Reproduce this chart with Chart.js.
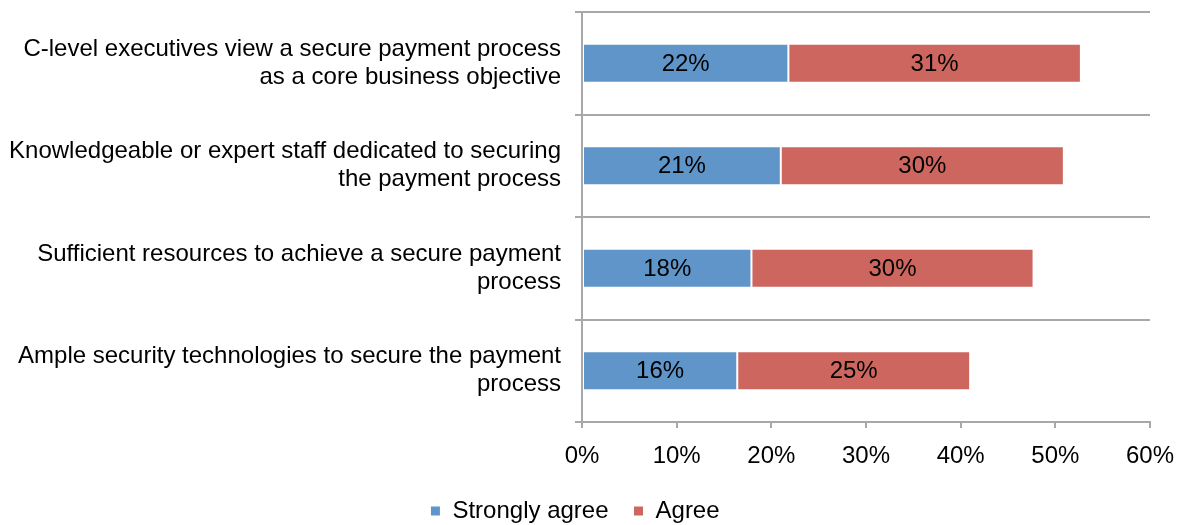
<!DOCTYPE html>
<html>
<head>
<meta charset="utf-8">
<title>Secure payment process</title>
<script src="https://cdn.jsdelivr.net/npm/chart.js@4/dist/chart.umd.min.js"></script>
<style>
  html, body { margin: 0; padding: 0; background: #fff; }
  #wrap { width: 1181px; height: 525px; position: relative; }
</style>
</head>
<body>
<div id="wrap"><canvas id="surveyChart"></canvas></div>
<script>
const categories = [
    ["C-level executives view a secure payment process", "as a core business objective"],
    ["Knowledgeable or expert staff dedicated to securing", "the payment process"],
    ["Sufficient resources to achieve a secure payment", "process"],
    ["Ample security technologies to secure the payment", "process"]
];
const stronglyAgree = [21.8, 21.0, 17.9, 16.4];
const agree = [30.9, 29.9, 29.8, 24.6];
const xTicks = [0, 10, 20, 30, 40, 50, 60];

const FONT = "'Liberation Sans', Arial, sans-serif";
const GRID = '#a8a8a8';

// write the rounded value in the middle of each bar segment
const segmentLabels = {
    id: 'segmentLabels',
    afterDatasetsDraw(chart) {
        const ctx = chart.ctx;
        ctx.save();
        ctx.font = '24px ' + FONT;
        ctx.fillStyle = '#000';
        ctx.textAlign = 'center';
        ctx.textBaseline = 'middle';
        chart.data.datasets.forEach((ds, i) => {
            chart.getDatasetMeta(i).data.forEach((bar, j) => {
                const cx = (bar.x + bar.base) / 2;
                ctx.fillText(Math.round(ds.data[j]) + '%', cx, bar.y + 1);
            });
        });
        ctx.restore();
    }
};

const ctx = document.getElementById('surveyChart').getContext('2d');
new Chart(ctx, {
    type: 'bar',
    data: {
        labels: categories,
        datasets: [{
            label: 'Strongly agree',
            data: stronglyAgree,
            backgroundColor: '#5f95c9',
            borderColor: '#ffffff',
            borderWidth: 1,
            borderSkipped: false,
            barPercentage: 0.38,
            categoryPercentage: 1
        }, {
            label: 'Agree',
            data: agree,
            backgroundColor: '#cd665f',
            borderColor: '#ffffff',
            borderWidth: 1,
            borderSkipped: false,
            barPercentage: 0.38,
            categoryPercentage: 1
        }]
    },
    options: {
        indexAxis: 'y',
        responsive: true,
        maintainAspectRatio: false,
        animation: false,
        layout: { padding: { top: 12, right: 31, left: 0, bottom: -8 } },
        scales: {
            x: {
                stacked: true,
                min: 0,
                max: 60,
                afterBuildTicks(scale) {
                    scale.ticks = xTicks.map(v => ({ value: v }));
                },
                ticks: {
                    color: '#000',
                    font: { family: FONT, size: 24 },
                    padding: 14,
                    maxRotation: 0,
                    callback: v => v + '%'
                },
                grid: {
                    drawOnChartArea: false,
                    drawTicks: true,
                    tickLength: 6,
                    color: GRID,
                    lineWidth: 2
                },
                border: { color: GRID, width: 2 },
                afterFit(scale) {
                    scale.height = 52;
                    scale.paddingLeft = 0;
                    scale.paddingRight = 0;
                }
            },
            y: {
                stacked: true,
                ticks: {
                    color: '#000',
                    font: { family: FONT, size: 24, lineHeight: 1.17 },
                    padding: 14,
                    autoSkip: false
                },
                grid: {
                    offset: true,
                    drawTicks: true,
                    tickLength: 7,
                    color: GRID,
                    lineWidth: 2
                },
                border: { color: GRID, width: 2 },
                afterFit(scale) {
                    scale.width = 582;
                    scale.paddingTop = 0;
                    scale.paddingBottom = 0;
                }
            }
        },
        plugins: {
            legend: {
                position: 'bottom',
                labels: {
                    color: '#000',
                    font: { family: FONT, size: 24 },
                    usePointStyle: true,
                    pointStyle: 'rect',
                    boxWidth: 10,
                    boxHeight: 10,
                    padding: 25
                }
            },
            tooltip: { enabled: false }
        }
    },
    plugins: [segmentLabels]
});
</script>
</body>
</html>
